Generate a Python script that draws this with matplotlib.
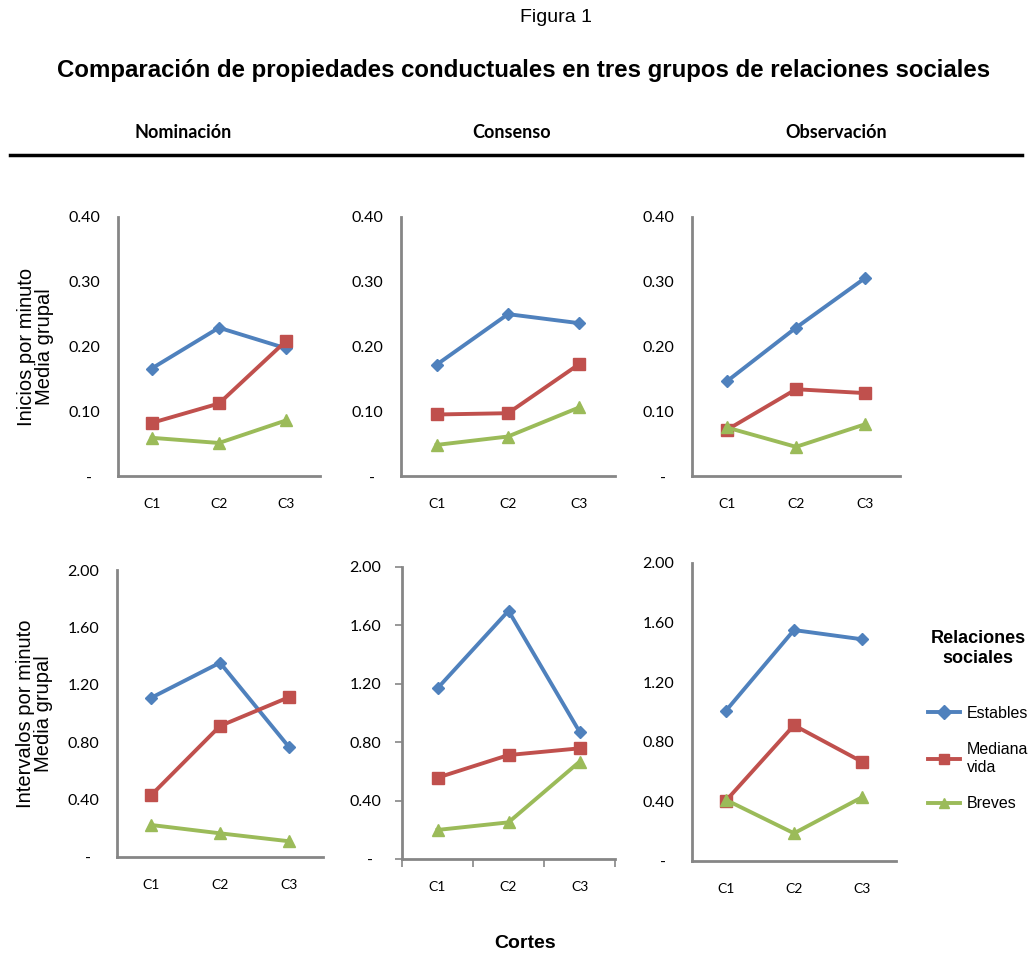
import matplotlib.pyplot as plt
from matplotlib.lines import Line2D

# data
cortes = ["C1", "C2", "C3"]
grupos = ["Nominación", "Consenso", "Observación"]
series = ["Estables", "Mediana\nvida", "Breves"]

# Inicios por minuto (top row)
ini_estables = [[0.166, 0.229, 0.197], [0.172, 0.250, 0.236], [0.146, 0.229, 0.306]]
ini_mediana = [[0.082, 0.112, 0.209], [0.095, 0.097, 0.173], [0.071, 0.134, 0.128]]
ini_breves = [[0.059, 0.051, 0.086], [0.048, 0.061, 0.106], [0.075, 0.045, 0.080]]

# Intervalos por minuto (bottom row)
int_estables = [[1.110, 1.354, 0.769], [1.169, 1.700, 0.872], [1.009, 1.550, 1.488]]
int_mediana = [[0.432, 0.913, 1.113], [0.557, 0.712, 0.758], [0.405, 0.911, 0.666]]
int_breves = [[0.223, 0.165, 0.110], [0.199, 0.251, 0.666], [0.410, 0.186, 0.428]]

ini_ticks = [0, 0.1, 0.2, 0.3, 0.4]
ini_labels = ["-  ", "0.10", "0.20", "0.30", "0.40"]
int_ticks = [0, 0.4, 0.8, 1.2, 1.6, 2.0]
int_labels = ["-  ", "0.40", "0.80", "1.20", "1.60", "2.00"]

colors = ["#4F81BD", "#C0504D", "#9BBB59"]
markers = ["D", "s", "^"]
msizes = [6, 9, 9]
axis_gray = "#868686"

W, H = 1032, 956
fig = plt.figure(figsize=(W / 100, H / 100), dpi=100)

# axes boxes in pixels: left, top, right, bottom
boxes_top = [(118, 217, 320, 476), (401, 217, 615, 476), (692, 217, 900, 476)]
boxes_bot = [(117, 570, 323, 857), (402, 567, 615, 859), (692, 563, 896, 861)]


def make_ax(box):
    l, t, r, b = box
    return fig.add_axes([l / W, 1 - b / H, (r - l) / W, (b - t) / H])


def style(ax, ticks, labels, top, show_ticks):
    ax.set_xlim(0, 3)
    ax.set_ylim(0, top)
    ax.set_xticks([0.5, 1.5, 2.5])
    ax.set_xticklabels(cortes, fontfamily="Lato", fontsize=10)
    ax.set_yticks(ticks)
    ax.set_yticklabels(labels, fontfamily="Lato", fontsize=11.5)
    for s in ["top", "right"]:
        ax.spines[s].set_visible(False)
    for s in ["left", "bottom"]:
        ax.spines[s].set_color(axis_gray)
        ax.spines[s].set_linewidth(2)
    ax.tick_params(axis="x", length=0, pad=16)
    if show_ticks:
        ax.tick_params(axis="y", length=5, width=1.2, color=axis_gray, pad=10)
        ax.set_xticks([0, 1, 2, 3], minor=True)
        ax.tick_params(axis="x", which="minor", length=6, width=1.2, color=axis_gray)
    else:
        ax.tick_params(axis="y", length=0, pad=13)


handles = []
for i in range(3):
    ax = make_ax(boxes_top[i])
    for vals, c, m, ms in zip([ini_estables[i], ini_mediana[i], ini_breves[i]], colors, markers, msizes):
        ax.plot([0.5, 1.5, 2.5], vals, color=c, marker=m, markersize=ms, linewidth=2.8, clip_on=False)
    style(ax, ini_ticks, ini_labels, 0.4, False)
    if i == 0:
        ax.set_ylabel("Inicios por minuto\nMedia grupal", fontfamily="Liberation Sans",
                      fontsize=14.5, labelpad=10, linespacing=0.95)

    ax = make_ax(boxes_bot[i])
    for vals, c, m, ms, lab in zip([int_estables[i], int_mediana[i], int_breves[i]], colors, markers, msizes, series):
        ln, = ax.plot([0.5, 1.5, 2.5], vals, color=c, marker=m, markersize=ms, linewidth=2.8,
                      clip_on=False, label=lab)
        if i == 2:
            handles.append(ln)
    style(ax, int_ticks, int_labels, 2.0, i == 1)
    if i == 0:
        ax.set_ylabel("Intervalos por minuto\nMedia grupal", fontfamily="Liberation Sans",
                      fontsize=14.5, labelpad=10, linespacing=0.95)

# titles
fig.text(556 / W, 1 - 18 / H, "Figura 1", ha="center", va="center", fontsize=14,
         fontfamily="Liberation Sans")
fig.text(524 / W, 1 - 70 / H, "Comparación de propiedades conductuales en tres grupos de relaciones sociales",
         ha="center", va="center", fontsize=17.3, fontweight="bold", fontfamily="Liberation Sans")
for x, g in zip([183, 512, 836], grupos):
    fig.text(x / W, 1 - 133 / H, g, ha="center", va="center", fontsize=13, fontweight="bold",
             fontfamily="Lato")
fig.add_artist(Line2D([10 / W, 1022 / W], [1 - 155 / H, 1 - 155 / H], color="black", linewidth=2.5))
fig.text(525 / W, 1 - 944 / H, "Cortes", ha="center", va="center", fontsize=14, fontweight="bold",
         fontfamily="Liberation Sans")

# legend
leg = fig.legend(handles=handles, labels=series, loc="upper left", bbox_to_anchor=(914 / W, 1 - 616 / H),
                 frameon=False, handlelength=2.0, handletextpad=0.4, labelspacing=1.35,
                 prop={"family": "Liberation Sans", "size": 11.5},
                 title="Relaciones\nsociales", title_fontproperties={"family": "Liberation Sans",
                                                                    "size": 13, "weight": "bold"})
leg.get_title().set_multialignment("center")
leg._legend_box.sep = 28
leg._legend_box.align = "center"
for h in leg.legend_handles:
    h.set_markersize(7)

fig.savefig("out.png", dpi=100)
